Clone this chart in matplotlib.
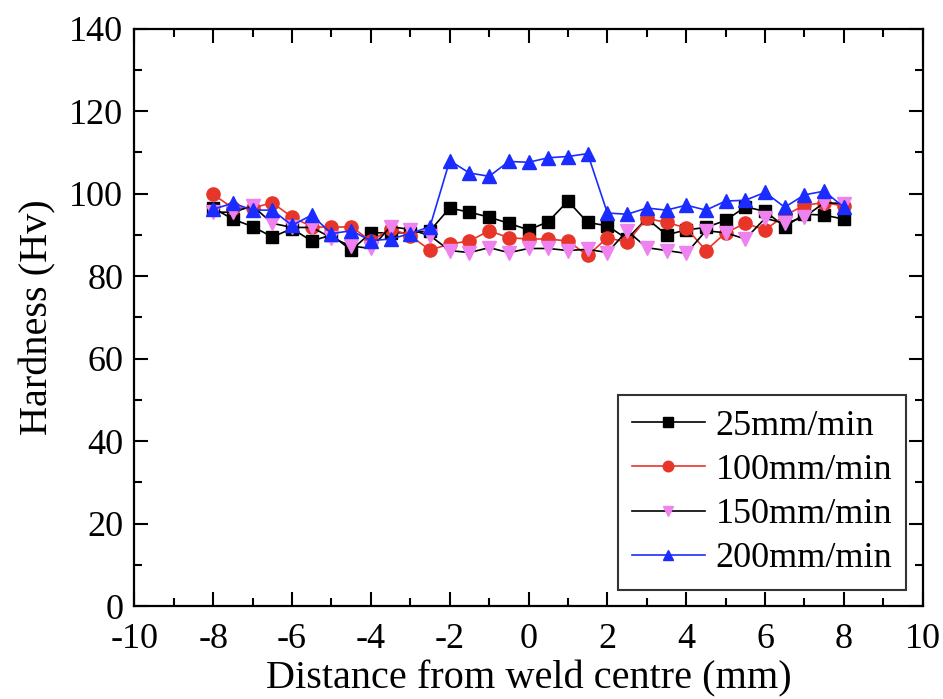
import matplotlib
matplotlib.use("Agg")
import matplotlib.pyplot as plt
from matplotlib.ticker import MultipleLocator

plt.rcParams["font.family"] = ["Liberation Serif", "DejaVu Serif"]
plt.rcParams["axes.unicode_minus"] = False

# measurement positions across the weld (mm)
distance = [-8, -7.5, -7, -6.5, -6, -5.5, -5, -4.5, -4, -3.5, -3, -2.5, -2, -1.5,
            -1, -0.5, 0, 0.5, 1, 1.5, 2, 2.5, 3, 3.5, 4, 4.5, 5, 5.5, 6, 6.5,
            7, 7.5, 8]

hv_25 = [96.5, 93.8, 92, 89.5, 91.5, 88.5, 90, 86.3, 90.5, 90.5, 90.5, 91, 96.5,
         95.5, 94.3, 92.8, 91.2, 93.2, 98.2, 93, 92.2, 89, 94, 90, 91.2, 91.8,
         93.5, 96.8, 95.7, 92, 95, 94.8, 93.8]
hv_100 = [99.8, 96.5, 96.5, 97.8, 94.3, 92, 91.8, 92, 88.5, 91.5, 89.8, 86.3,
          87.8, 88.5, 91, 89.3, 89, 89, 88.5, 85, 89.3, 88.2, 94, 93, 91.7, 86.2,
          90.5, 92.8, 91.2, 94.7, 97.2, 97.8, 97]
hv_150 = [95.5, 95.5, 97, 92.8, 91.8, 91.8, 89.3, 87.3, 86.7, 92, 91.3, 89.8,
          86.2, 85.7, 86.9, 85.7, 86.7, 86.7, 86.2, 86.5, 85.7, 91, 86.9, 86.2,
          85.5, 91, 90.5, 89, 94, 92.8, 94.3, 97.8, 97.6]
hv_200 = [96.2, 97.7, 96, 96, 92.3, 94.8, 90.3, 91, 88.6, 89, 90.3, 92, 108, 105,
          104.2, 107.8, 107.6, 108.7, 109, 109.7, 95.3, 95, 96.5, 96, 97.2, 96,
          98.2, 98.4, 100.3, 96.7, 99.7, 100.6, 96.7]

labels = ["25mm/min", "100mm/min", "150mm/min", "200mm/min"]

fig = plt.figure(figsize=(9.43, 6.99), dpi=100)
ax = fig.add_axes([0.1425, 0.133, 0.836, 0.826])

ax.plot(distance, hv_25, color="black", lw=1.2, marker="s", ms=8.5,
        mfc="black", mec="black", label=labels[0])
ax.plot(distance, hv_100, color="#e8352a", lw=1.2, marker="o", ms=9.5,
        mfc="#e8352a", mec="#e8352a", label=labels[1])
ax.plot(distance, hv_150, color="black", lw=1.2, marker="v", ms=9.5,
        mfc="#ee82ee", mec="#ee82ee", label=labels[2])
ax.plot(distance, hv_200, color="#1a2cff", lw=1.2, marker="^", ms=9.5,
        mfc="#1a2cff", mec="#1a2cff", label=labels[3])

ax.set_xlim(-10, 10)
ax.set_ylim(0, 140)
ax.xaxis.set_major_locator(MultipleLocator(2))
ax.xaxis.set_minor_locator(MultipleLocator(1))
ax.yaxis.set_major_locator(MultipleLocator(20))
ax.yaxis.set_minor_locator(MultipleLocator(10))
ax.tick_params(which="both", direction="in", top=True, right=True, width=1.5)
ax.tick_params(which="major", length=10, labelsize=26)
ax.tick_params(axis="x", which="major", pad=12.5)
ax.tick_params(axis="y", which="major", pad=8)
ax.tick_params(which="minor", length=5.5)
for spine in ax.spines.values():
    spine.set_linewidth(1.6)

ax.set_xlabel("Distance from weld centre (mm)", fontsize=29, labelpad=3)
ax.set_ylabel("Hardness (Hv)", fontsize=29, labelpad=9)

leg = ax.legend(loc="lower right", fontsize=26, frameon=True, fancybox=False,
                edgecolor="black", handlelength=2.0, borderpad=0.4,
                labelspacing=0.3, handletextpad=0.3, borderaxespad=0.45,
                markerscale=0.8)
leg.get_frame().set_linewidth(1.5)

fig.savefig("out.png", dpi=100)
